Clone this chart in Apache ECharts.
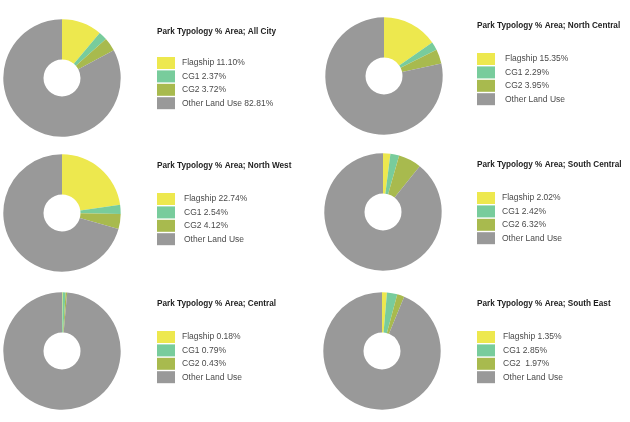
<!DOCTYPE html>
<html>
<head>
<meta charset="utf-8">
<script src="https://cdn.jsdelivr.net/npm/echarts@6/dist/echarts.min.js"></script>
<style>
html,body{margin:0;padding:0;background:#fff;}
#c{width:630px;height:422px;}
</style>
</head>
<body>
<div id="c"></div>
<script>
var categories = ['Flagship', 'CG1', 'CG2', 'Other Land Use'];
var regions = ['All City', 'North Central', 'North West', 'South Central', 'Central', 'South East'];
var allCity = [11.10, 2.37, 3.72, 82.81];
var northCentral = [15.35, 2.29, 3.95, 78.41];
var northWest = [22.74, 2.54, 4.12, 70.60];
var southCentral = [2.02, 2.42, 6.32, 89.24];
var central = [0.18, 0.79, 0.43, 98.60];
var southEast = [1.35, 2.85, 1.97, 93.83];
var allCityLabels = ['Flagship 11.10%', 'CG1 2.37%', 'CG2 3.72%', 'Other Land Use 82.81%'];
var northCentralLabels = ['Flagship 15.35%', 'CG1 2.29%', 'CG2 3.95%', 'Other Land Use'];
var northWestLabels = ['Flagship 22.74%', 'CG1 2.54%', 'CG2 4.12%', 'Other Land Use'];
var southCentralLabels = ['Flagship 2.02%', 'CG1 2.42%', 'CG2 6.32%', 'Other Land Use'];
var centralLabels = ['Flagship 0.18%', 'CG1 0.79%', 'CG2 0.43%', 'Other Land Use'];
var southEastLabels = ['Flagship 1.35%', 'CG1 2.85%', 'CG2  1.97%', 'Other Land Use'];

var values = [allCity, northCentral, northWest, southCentral, central, southEast];
var labels = [allCityLabels, northCentralLabels, northWestLabels, southCentralLabels, centralLabels, southEastLabels];
var colors = ['#ede84e', '#78cc9c', '#a8ba4e', '#999999'];

// layout per panel: pie center, title top, legend top, legend left, text gap
var layout = [
  {cx: 62, cy: 78, tx: 157, ty: 28, lx: 157, ly: 57, gap: 2},
  {cx: 384, cy: 76, tx: 477, ty: 22, lx: 477, ly: 53, gap: 5},
  {cx: 62, cy: 213, tx: 157, ty: 162, lx: 157, ly: 193, gap: 4},
  {cx: 383, cy: 212, tx: 477, ty: 161, lx: 477, ly: 192, gap: 2},
  {cx: 62, cy: 351, tx: 157, ty: 300, lx: 157, ly: 331, gap: 2},
  {cx: 382, cy: 351, tx: 477, ty: 300, lx: 477, ly: 331, gap: 3}
];

var titles = [], legends = [], series = [];
regions.forEach(function (r, i) {
  var L = layout[i];
  titles.push({
    text: 'Park Typology % Area; ' + r,
    left: L.tx, top: L.ty, padding: 0,
    textStyle: {fontFamily: 'Liberation Sans', fontSize: 8.2, fontWeight: 'bold', color: '#1e1e1e'}
  });
  (function (lab) {
    legends.push({
      orient: 'vertical', left: L.lx, top: L.ly, padding: 0,
      itemWidth: 18, itemHeight: 12, itemGap: 1.4, icon: 'rect',
      selectedMode: false,
      data: categories,
      formatter: function (name) { return lab[categories.indexOf(name)]; },
      textStyle: {fontFamily: 'Liberation Sans', fontSize: 8.5, color: '#4a4a4a', padding: [0, 0, 0, L.gap]}
    });
  })(labels[i]);
  series.push({
    type: 'pie',
    name: r,
    center: [L.cx, L.cy],
    radius: [18.5, 58.7],
    startAngle: 90,
    clockwise: true,
    avoidLabelOverlap: false,
    label: {show: false},
    labelLine: {show: false},
    emphasis: {disabled: true},
    animation: false,
    itemStyle: {borderWidth: 0},
    data: categories.map(function (c, k) {
      return {name: c, value: values[i][k], itemStyle: {color: colors[k]}};
    })
  });
});

var chart = echarts.init(document.getElementById('c'));
chart.setOption({
  backgroundColor: '#ffffff',
  animation: false,
  color: colors,
  title: titles,
  legend: legends,
  series: series
});
</script>
</body>
</html>
